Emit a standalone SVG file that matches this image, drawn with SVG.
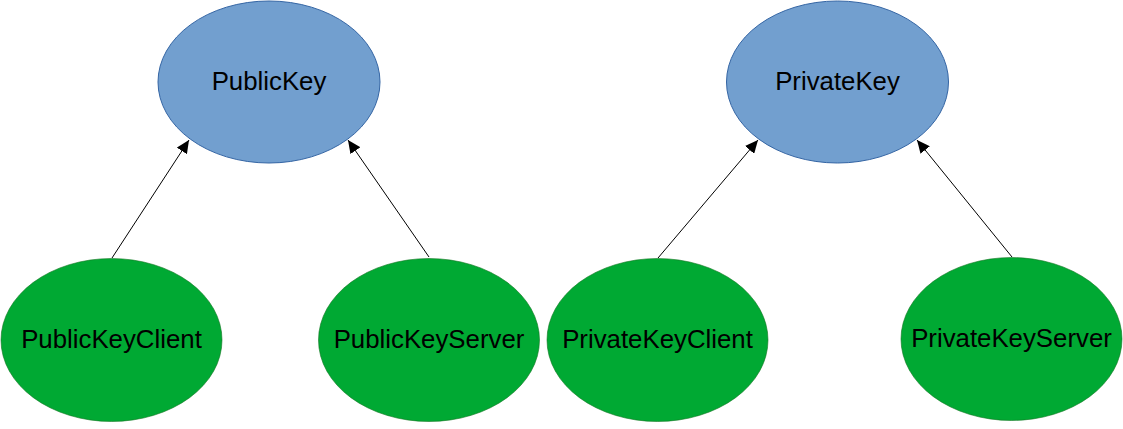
<svg xmlns="http://www.w3.org/2000/svg" width="1123" height="429" viewBox="0 0 1123 429">
<style>
.blue{fill:#729fcf;stroke:#3465a4;stroke-width:1}
.green{fill:#00a933;stroke:#127622;stroke-width:0.6}
.lbl{font-family:"Liberation Sans",Arial,sans-serif;font-size:25.8px;fill:#000;text-anchor:middle;dominant-baseline:central}
.edge{stroke:#000;stroke-width:1;fill:none;marker-end:url(#ah)}
</style>
<defs>
<marker id="ah" markerWidth="14" markerHeight="12" refX="13" refY="6" orient="auto" markerUnits="userSpaceOnUse">
<path d="M0,0 L13,6 L0,12 Z" fill="#000"/>
</marker>
</defs>
<rect width="1123" height="429" fill="#fff"/>
<g id="connectors">
<line class="edge" x1="112" y1="258" x2="189" y2="140"/>
<line class="edge" x1="429" y1="257" x2="348" y2="140"/>
<line class="edge" x1="658" y1="258" x2="758" y2="140"/>
<line class="edge" x1="1012" y1="257" x2="917" y2="140"/>
</g>
<g id="PublicKey">
<ellipse class="blue" cx="269" cy="82" rx="111" ry="81"/>
<text class="lbl" x="269" y="81">PublicKey</text>
</g>
<g id="PrivateKey">
<ellipse class="blue" cx="837.5" cy="82" rx="111" ry="81"/>
<text class="lbl" x="837.5" y="81">PrivateKey</text>
</g>
<g id="PublicKeyClient">
<ellipse class="green" cx="111.5" cy="340" rx="110.5" ry="81.5"/>
<text class="lbl" x="111.5" y="339">PublicKeyClient</text>
</g>
<g id="PublicKeyServer">
<ellipse class="green" cx="429" cy="340" rx="110.5" ry="81.5"/>
<text class="lbl" x="429" y="339">PublicKeyServer</text>
</g>
<g id="PrivateKeyClient">
<ellipse class="green" cx="657.5" cy="340" rx="110.5" ry="81.5"/>
<text class="lbl" x="657.5" y="339">PrivateKeyClient</text>
</g>
<g id="PrivateKeyServer">
<ellipse class="green" cx="1011.5" cy="339" rx="110.5" ry="81.5"/>
<text class="lbl" x="1011.5" y="338">PrivateKeyServer</text>
</g>
</svg>
